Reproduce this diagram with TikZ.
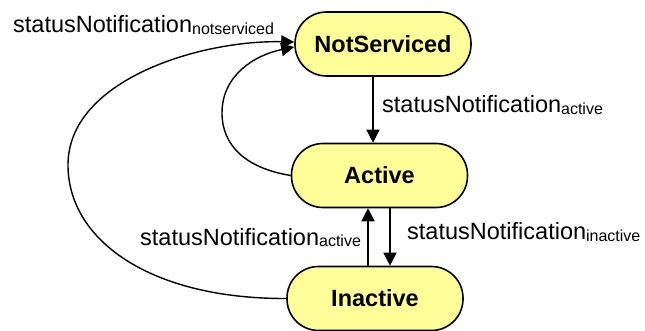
\documentclass[tikz,border=0pt]{standalone}
\usepackage{fontspec}
\setmainfont{Liberation Sans}
\usetikzlibrary{arrows.meta}
\definecolor{statefill}{HTML}{FFFF99}
\newcommand{\lblsub}[1]{\raisebox{-1.5pt}{\fontsize{16}{16}\selectfont #1}}
\begin{document}
\begin{tikzpicture}[x=1pt,y=-1pt,
  state/.style={draw=black, line width=1.6pt, fill=statefill, rectangle,
    rounded corners=31.5pt, minimum width=176pt, minimum height=64pt,
    inner sep=0pt, font=\fontsize{23.5}{28}\selectfont\bfseries},
  trans/.style={line width=1.4pt, -{Triangle[length=13pt,width=13pt]}},
  lbl/.style={anchor=base west, inner sep=0pt, font=\fontsize{23.5}{28}\selectfont},
]
\useasboundingbox (0,0) rectangle (645,331);

% states
\node[state] (ns)  at (383,44)    {NotServiced};
\node[state] (act) at (379.5,175.5) {Active};
\node[state] (ina) at (375,298.5) {Inactive};

% x positions of the vertical transitions
\coordinate (xdown) at (373,0);
\coordinate (xup)   at (368,0);
\coordinate (xin)   at (390,0);

% transitions
\draw[trans] (ns.south -| xdown) -- (act.north -| xdown);
\draw[trans] (ina.north -| xup) -- (act.south -| xup);
\draw[trans] (act.south -| xin) -- (ina.north -| xin);
\draw[trans] (act.west) .. controls (245,168) and (222,145) .. (222,113)
  .. controls (222,75) and (255,55) .. ([yshift=-3pt]ns.west);
\draw[trans] (ina.west) .. controls (150,299) and (68,240) .. (68,165)
  .. controls (68,80) and (200,40) .. ([yshift=2pt]ns.west);

% transition labels
\node[lbl] (l1) at (13,33)   {statusNotification\lblsub{notserviced}};
\node[lbl] (l2) at (382,113) {statusNotification\lblsub{active}};
\node[lbl] (l3) at (407,240) {statusNotification\lblsub{inactive}};
\node[lbl] (l4) at (140,245) {statusNotification\lblsub{active}};
\end{tikzpicture}
\end{document}
